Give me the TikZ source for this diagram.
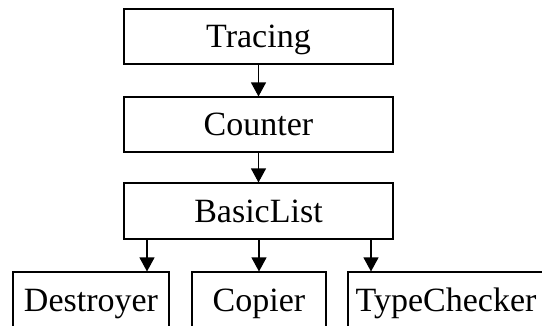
\documentclass[tikz,border=0pt]{standalone}
\usepackage{fontspec}
\setmainfont{Liberation Serif}
\usetikzlibrary{arrows.meta}
\begin{document}
\begin{tikzpicture}[x=1pt,y=-1pt,
  box/.style={draw=black, line width=1.1pt, rectangle, inner sep=0pt,
    minimum height=55pt, text height=22pt, text depth=0pt,
    font=\fontsize{34}{40}\selectfont},
  arr/.style={draw=black, line width=1.1pt, -{Triangle[width=15pt,length=14pt]}}]
\useasboundingbox (0,0) rectangle (542,325);
\clip (0,0) rectangle (542,325);
\node[box, minimum width=269pt] (tracing) at (258.5,36.5) {Tracing};
\node[box, minimum width=269pt] (counter) at (258.5,124.5) {Counter};
\node[box, minimum width=269pt, minimum height=56pt] (basic) at (258.5,211) {BasicList};
\node[box, minimum width=156pt, minimum height=57pt] (destroyer) at (91,300.5) {Destroyer};
\node[box, minimum width=134pt, minimum height=57pt] (copier) at (259,300.5) {Copier};
\node[box, minimum width=196pt, minimum height=57pt] (typechecker) at (446,300.5) {TypeChecker};
\draw[arr] (tracing.south) -- (counter.north);
\draw[arr] (counter.south) -- (basic.north);
\draw[arr] ([xshift=56pt]destroyer.north |- basic.south) -- ([xshift=56pt]destroyer.north);
\draw[arr] (copier.north |- basic.south) -- (copier.north);
\draw[arr] ([xshift=-75pt]typechecker.north |- basic.south) -- ([xshift=-75pt]typechecker.north);
\end{tikzpicture}
\end{document}
